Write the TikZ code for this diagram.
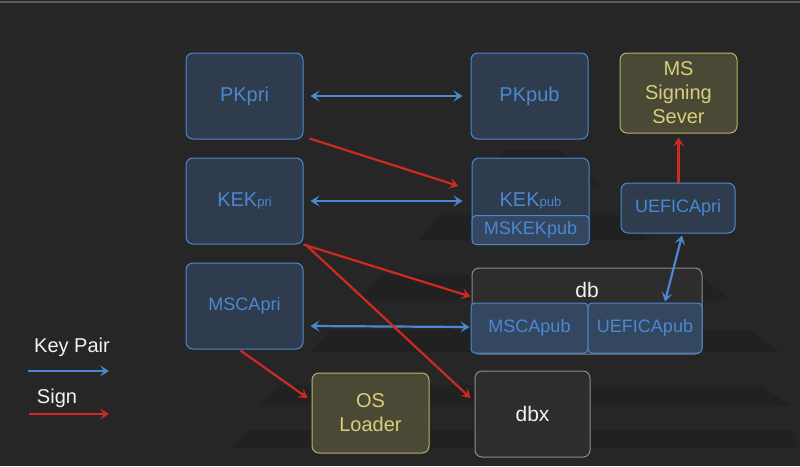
\documentclass[tikz,border=0pt]{standalone}
\usepackage{fontspec}
\setmainfont{Liberation Sans}
\usetikzlibrary{arrows.meta}
\definecolor{bg}{HTML}{262626}
\definecolor{kblue}{HTML}{4A88D2}
\definecolor{bfill}{HTML}{2F3C4D}
\definecolor{bfillb}{HTML}{344760}
\definecolor{kred}{HTML}{CC2A22}
\definecolor{yline}{HTML}{B9B16A}
\definecolor{ytext}{HTML}{D8CF7A}
\definecolor{yfill}{HTML}{4A4936}
\definecolor{gline}{HTML}{8C8C8C}
\definecolor{gfill}{HTML}{2D2D2D}
\definecolor{wtext}{HTML}{F2F2F2}
\tikzset{
  bluebox/.style={draw=kblue, fill=bfill, rounded corners=7pt, line width=1pt, text=kblue, align=center, inner sep=0pt, font=\fontsize{20}{24}\selectfont},
  subbox/.style={draw=kblue, fill=bfillb, rounded corners=4pt, line width=1pt, text=kblue, align=center, inner sep=0pt, font=\fontsize{18}{22}\selectfont},
  yellowbox/.style={draw=yline, fill=yfill, rounded corners=7pt, line width=1pt, text=ytext, align=center, inner sep=0pt, font=\fontsize{20}{24}\selectfont},
  graybox/.style={draw=gline, fill=gfill, rounded corners=7pt, line width=1pt, text=wtext, align=center, inner sep=0pt, font=\fontsize{21}{24}\selectfont},
  wlabel/.style={text=wtext, inner sep=0pt, font=\fontsize{20}{24}\selectfont},
  tipA/.tip={Stealth[length=9pt,width=11pt,inset=4pt]},
  keypair/.style={draw=kblue, line width=2.2pt, tipA-tipA},
  keyone/.style={draw=kblue, line width=2.2pt, -tipA},
  signarrow/.style={draw=kred, line width=2.2pt, -tipA},
  band/.style={fill=black, fill opacity=0.11, draw=none}
}
\begin{document}
\begin{tikzpicture}[x=1pt,y=-1pt]
\useasboundingbox (0,0) rectangle (800,466);
\fill[bg] (0,0) rectangle (800,466);
\draw[color=gray!60!bg, line width=1.5pt] (0,2) -- (800,2);
% faint background pyramid
\fill[band] (505,150) -- (560,150) -- (600,185) -- (470,185) -- cycle;
\fill[band] (440,215) -- (620,215) -- (650,240) -- (420,240) -- cycle;
\fill[band] (380,275) -- (700,275) -- (730,300) -- (360,300) -- cycle;
\fill[band] (330,330) -- (750,330) -- (780,352) -- (310,352) -- cycle;
\fill[band] (280,385) -- (760,385) -- (790,405) -- (260,405) -- cycle;
\fill[band] (250,430) -- (790,430) -- (800,448) -- (230,448) -- cycle;
% boxes
\node[bluebox, minimum width=117pt, minimum height=86pt] (pkpri) at (244.5,96) {PKpri};
\node[bluebox, minimum width=117pt, minimum height=86pt] (pkpub) at (529.5,96) {PKpub};
\node[yellowbox, minimum width=117pt, minimum height=80pt] (mss) at (678.5,93) {MS\\Signing\\Sever};
\node[bluebox, minimum width=117pt, minimum height=86pt] (kekpri) at (244.5,201) {KEK{\fontsize{13}{15}\selectfont pri}};
\node[bluebox, minimum width=117pt, minimum height=86pt] (kekpub) at (530.5,201) {KEK{\fontsize{13}{15}\selectfont pub}};
\node[subbox, minimum width=117pt, minimum height=29pt] (mskek) at (530.5,230) {MSKEKpub};
\node[bluebox, font=\fontsize{18}{22}\selectfont, minimum width=114pt, minimum height=50pt] (uefipri) at (678,208) {UEFICApri};
\node[graybox, minimum width=230pt, minimum height=86pt] (db) at (587,311) {};
\node[wlabel, font=\fontsize{21}{24}\selectfont] (dblabel) at (587,290) {db};
\node[subbox, minimum width=117pt, minimum height=50pt] (mscapub) at (529.5,328) {MSCApub};
\node[subbox, minimum width=114pt, minimum height=50pt] (uefipub) at (645,328) {UEFICApub};
\node[bluebox, font=\fontsize{18}{22}\selectfont, minimum width=117pt, minimum height=86pt] (mscapri) at (244.5,306) {MSCApri};
\node[yellowbox, minimum width=117pt, minimum height=80pt] (osl) at (370.5,413) {OS\\Loader};
\node[graybox, minimum width=115pt, minimum height=86pt] (dbx) at (532.5,414) {dbx};
% key pair arrows
\draw[keypair] ([xshift=7pt]pkpri.east) -- ([xshift=-8pt]pkpub.west);
\draw[keypair] ([xshift=7pt]kekpri.east) -- ([xshift=-9pt]kekpub.west);
\draw[keypair] ([xshift=7pt,yshift=-20pt]mscapri.east) -- ([xshift=-1pt,yshift=1pt]mscapub.west);
\draw[keypair] ([xshift=4pt,yshift=-2pt]uefipri.south) -- ([xshift=20pt,yshift=1pt]uefipub.north);
% sign arrows
\draw[signarrow] ([shift={(6,-1)}]pkpri.south east) -- ([shift={(-13,-15)}]kekpub.west);
\draw[signarrow] (kekpri.south east) -- ([shift={(-1,29)}]db.north west);
\draw[signarrow] ([xshift=2pt]kekpri.south east) -- ([shift={(-4,-16)}]dbx.west);
\draw[signarrow] ([xshift=-4pt,yshift=-1pt]mscapri.south) -- ([shift={(-4,-15)}]osl.west);
\draw[signarrow] (uefipri.north -| mss.south) -- ([yshift=-4pt]mss.south);
% legend
\node[wlabel] (kplabel) at (72,347) {Key Pair};
\coordinate (kpa) at (28,371);
\coordinate (kpb) at (109,371);
\draw[keyone] (kpa) -- (kpb);
\node[wlabel] (signlabel) at (57,398) {Sign};
\coordinate (sga) at (29,414);
\coordinate (sgb) at (109,414);
\draw[signarrow] (sga) -- (sgb);
\end{tikzpicture}
\end{document}
